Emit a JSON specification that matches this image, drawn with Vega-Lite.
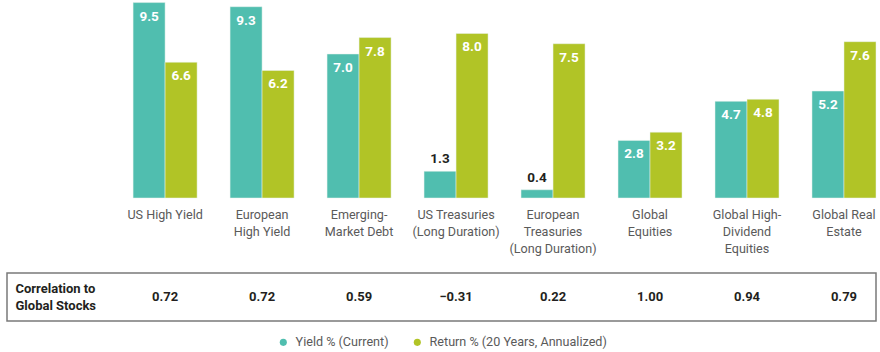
{
  "$schema": "https://vega.github.io/schema/vega-lite/v6.json",
  "padding": {"left": 6, "top": 0, "right": 0, "bottom": 0},
  "background": "white",
  "datasets": {
    "bars": [
      {"cat": "US High Yield", "series": "Yield % (Current)", "value": 9.5},
      {"cat": "US High Yield", "series": "Return % (20 Years, Annualized)", "value": 6.6},
      {"cat": "European\nHigh Yield", "series": "Yield % (Current)", "value": 9.3},
      {"cat": "European\nHigh Yield", "series": "Return % (20 Years, Annualized)", "value": 6.2},
      {"cat": "Emerging-\nMarket Debt", "series": "Yield % (Current)", "value": 7.0},
      {"cat": "Emerging-\nMarket Debt", "series": "Return % (20 Years, Annualized)", "value": 7.8},
      {"cat": "US Treasuries\n(Long Duration)", "series": "Yield % (Current)", "value": 1.3},
      {"cat": "US Treasuries\n(Long Duration)", "series": "Return % (20 Years, Annualized)", "value": 8.0},
      {"cat": "European\nTreasuries\n(Long Duration)", "series": "Yield % (Current)", "value": 0.4},
      {"cat": "European\nTreasuries\n(Long Duration)", "series": "Return % (20 Years, Annualized)", "value": 7.5},
      {"cat": "Global\nEquities", "series": "Yield % (Current)", "value": 2.8},
      {"cat": "Global\nEquities", "series": "Return % (20 Years, Annualized)", "value": 3.2},
      {"cat": "Global High-\nDividend\nEquities", "series": "Yield % (Current)", "value": 4.7},
      {"cat": "Global High-\nDividend\nEquities", "series": "Return % (20 Years, Annualized)", "value": 4.8},
      {"cat": "Global Real\nEstate", "series": "Yield % (Current)", "value": 5.2},
      {"cat": "Global Real\nEstate", "series": "Return % (20 Years, Annualized)", "value": 7.6}
    ],
    "corr": [
      {"cat": "US High Yield", "row": "Correlation to\nGlobal Stocks", "corr": "0.72"},
      {"cat": "European\nHigh Yield", "row": "Correlation to\nGlobal Stocks", "corr": "0.72"},
      {"cat": "Emerging-\nMarket Debt", "row": "Correlation to\nGlobal Stocks", "corr": "0.59"},
      {"cat": "US Treasuries\n(Long Duration)", "row": "Correlation to\nGlobal Stocks", "corr": "\u22120.31"},
      {"cat": "European\nTreasuries\n(Long Duration)", "row": "Correlation to\nGlobal Stocks", "corr": "0.22"},
      {"cat": "Global\nEquities", "row": "Correlation to\nGlobal Stocks", "corr": "1.00"},
      {"cat": "Global High-\nDividend\nEquities", "row": "Correlation to\nGlobal Stocks", "corr": "0.94"},
      {"cat": "Global Real\nEstate", "row": "Correlation to\nGlobal Stocks", "corr": "0.79"}
    ]
  },
  "bounds": "flush",
  "spacing": 75,
  "vconcat": [
    {
      "width": 869,
      "height": 198,
      "view": {"stroke": null},
      "data": {"name": "bars"},
      "encoding": {
        "x": {
          "field": "cat", "type": "nominal", "sort": null,
          "scale": {"type": "band", "paddingInner": 0.34, "paddingOuter": 0.65, "align": 1},
          "axis": {
            "title": null, "domain": false, "ticks": false, "labelAngle": 0,
            "labelPadding": 10, "labelFontSize": 12.6, "labelColor": "#5a5a5a",
            "labelFont": "Roboto", "labelLineHeight": 17, "labelBaseline": "top",
            "labelExpr": "split(datum.label, '\\n')"
          }
        },
        "xOffset": {"field": "series", "type": "nominal", "sort": ["Yield % (Current)", "Return % (20 Years, Annualized)"], "scale": {"paddingInner": 0, "paddingOuter": 0}},
        "y": {"field": "value", "type": "quantitative", "scale": {"domain": [0, 9.626], "nice": false, "zero": true}, "axis": null}
      },
      "layer": [
        {
          "mark": {"type": "bar", "stroke": "#e8f3ec", "strokeWidth": 0.5},
          "encoding": {
            "color": {
              "field": "series", "type": "nominal",
              "sort": ["Yield % (Current)", "Return % (20 Years, Annualized)"],
              "scale": {"domain": ["Yield % (Current)", "Return % (20 Years, Annualized)"], "range": ["#50BEAF", "#B1C426"]},
              "legend": {
                "title": null, "orient": "bottom", "direction": "horizontal",
                "symbolType": "circle", "symbolSize": 50, "symbolStrokeWidth": 0,
                "labelFontSize": 12.6, "labelColor": "#5a5a5a", "labelFont": "Roboto",
                "labelLimit": 400, "columnPadding": 22, "labelOffset": 6, "offset": 14
              }
            }
          }
        },
        {
          "transform": [{"filter": "datum.value >= 2"}],
          "mark": {"type": "text", "baseline": "middle", "dy": 14, "fontWeight": "bold", "fontSize": 13.5, "font": "Roboto", "color": "white"},
          "encoding": {"text": {"field": "value", "type": "quantitative", "format": ".1f"}}
        },
        {
          "transform": [{"filter": "datum.value < 2"}],
          "mark": {"type": "text", "baseline": "middle", "dy": -12, "fontWeight": "bold", "fontSize": 13.5, "font": "Roboto", "color": "#231F20"},
          "encoding": {"text": {"field": "value", "type": "quantitative", "format": ".1f"}}
        }
      ]
    },
    {
      "width": 869,
      "height": 48,
      "view": {"stroke": "#7a7a7a", "strokeWidth": 1.5},
      "data": {"name": "corr"},
      "mark": {"type": "text", "fontWeight": "bold", "fontSize": 13, "font": "Roboto", "color": "#231F20"},
      "encoding": {
        "x": {
          "field": "cat", "type": "nominal", "sort": null,
          "scale": {"type": "band", "paddingInner": 0.34, "paddingOuter": 0.65, "align": 1},
          "axis": null
        },
        "y": {
          "field": "row", "type": "nominal",
          "axis": {
            "title": null, "domain": false, "ticks": false, "labelAlign": "left",
            "labelPadding": -8, "labelFontSize": 13, "labelFontWeight": "bold",
            "labelColor": "#231F20", "labelFont": "Roboto", "labelLineHeight": 17,
            "labelOffset": -8.5,
            "labelExpr": "split(datum.label, '\\n')"
          }
        },
        "text": {"field": "corr"}
      }
    }
  ],
  "resolve": {"scale": {"x": "independent"}},
  "config": {"view": {"stroke": null}, "legend": {"layout": {"anchor": "middle"}}}
}
